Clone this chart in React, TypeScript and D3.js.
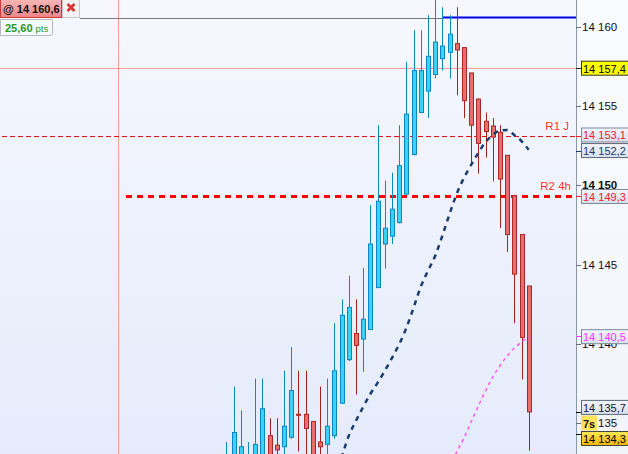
import React from "react";
import * as d3 from "d3";

// ---- DATA ----
const opens = [
  14131.0, 14131.5, 14131.8, 14131.5, 14132.2, 14132.4, 14134.2, 14133.6, 14133.5, 14134.1,
  14135.55, 14135.55, 14135.1, 14133.8, 14133.65, 14134.2, 14136.25, 14139.0, 14140.65, 14140.3,
  14140.9, 14143.55, 14146.3, 14146.8, 14147.65, 14149.45, 14151.95, 14154.6, 14155.95, 14157.0,
  14158.0, 14158.4, 14158.95, 14158.7, 14157.1, 14155.45, 14154.05, 14153.75, 14153.35, 14151.9,
  14149.35, 14146.9, 14143.65,
];
const highs = [
  14133.8, 14137.3, 14135.8, 14133.8, 14137.8, 14137.8, 14135.3, 14135.3, 14138.3, 14139.8,
  14138.3, 14138.3, 14135.1, 14137.3, 14137.8, 14141.3, 14142.8, 14144.3, 14142.8, 14144.8,
  14148.75, 14153.8, 14150.3, 14150.8, 14153.8, 14157.8, 14159.8, 14159.8, 14160.75, 14161.7,
  14161.25, 14160.75, 14161.25, 14158.7, 14157.1, 14155.5, 14154.6, 14154.25, 14153.8, 14151.9,
  14149.4, 14146.9, 14143.65,
];
const lows = [
  14130.0, 14131.0, 14131.5, 14131.0, 14131.8, 14132.0, 14132.0, 14132.5, 14132.8, 14134.0,
  14133.2, 14132.8, 14132.0, 14132.8, 14132.8, 14134.0, 14136.2, 14138.9, 14136.8, 14138.24,
  14140.9, 14143.55, 14144.75, 14146.3, 14147.6, 14149.4, 14151.9, 14154.6, 14154.25, 14156.75,
  14157.25, 14156.75, 14155.7, 14154.25, 14151.4, 14150.75, 14151.75, 14150.25, 14147.3, 14145.8,
  14141.3, 14137.75, 14133.25,
];
const closes = [
  14132.5, 14134.4, 14133.5, 14132.6, 14133.65, 14135.9, 14132.6, 14133.3, 14134.8, 14137.05,
  14135.5, 14134.65, 14132.6, 14133.5, 14134.8, 14138.3, 14141.8, 14142.3, 14139.9, 14141.55,
  14146.3, 14149.0, 14147.3, 14148.5, 14151.25, 14154.5, 14157.25, 14157.25, 14158.15, 14159.05,
  14158.8, 14159.55, 14158.55, 14155.35, 14153.8, 14152.65, 14153.4, 14153.05, 14150.4, 14146.9,
  14144.4, 14140.4, 14135.7,
];

// dark dashed moving average, starting at candle 16
const navyStart = 16;
const navyMA = [
  14132.79, 14134.18, 14135.13, 14136.01, 14136.83, 14137.53, 14138.28, 14139.1, 14139.96, 14141.0,
  14142.26, 14143.59, 14144.6, 14145.54, 14146.81, 14148.19, 14149.46, 14150.47, 14151.29, 14152.05,
  14152.74, 14153.18, 14153.47, 14153.5, 14153.18, 14152.8, 14152.25,
];
// pink dashed curve, starting at candle 31
const pinkStart = 31;
const pinkMA = [
  14132.2, 14133.17, 14134.05, 14135.06, 14136.07, 14137.02, 14137.9, 14138.6, 14139.23, 14139.73,
  14140.11, 14140.45,
];

const priceTicks = [14160, 14155, 14150, 14145, 14140, 14135];
const boldTick = 14150;

const lastPrice = 14160.6; // "@ 14 160,6" level
const rangePts = "25,60";
const level157 = 14157.4;
const levelR1 = 14153.1;
const levelR2 = 14149.3;
const r1Label = "R1 J";
const r2Label = "R2 4h";
const timerLabel = "7s";

const markerValues = [14157.4, 14153.1, 14152.2, 14149.3, 14140.5, 14135.7, 14134.3];
const markerKinds = ["yellow", "red", "navy", "red", "pink", "last", "bid"];

// ---- STYLES ----
const markerStyle: Record<string, { fill: string; stroke: string; text: string; tick: string }> = {
  yellow: { fill: "#ffff00", stroke: "#333333", text: "#000000", tick: "#222222" },
  red: { fill: "url(#boxGrad)", stroke: "#7a8a9a", text: "#ee2233", tick: "#ee2233" },
  navy: { fill: "url(#boxGrad)", stroke: "#5a6a7a", text: "#1a3a70", tick: "#1a3a70" },
  pink: { fill: "url(#boxGrad)", stroke: "#7a8a9a", text: "#ff33ff", tick: "#ff33ff" },
  last: { fill: "url(#boxGrad)", stroke: "#5a6a7a", text: "#101830", tick: "#000000" },
  bid: { fill: "url(#bidGrad)", stroke: "#444444", text: "#000000", tick: "#000000" },
};
const markerNudge = [0, -1.3, 0, 0, 0.8, -4.5, 4.4];

const FONT = "'Liberation Sans', Arial, sans-serif";

const fr = d3.formatLocale({ decimal: ",", thousands: "\u00a0", grouping: [3], currency: ["", ""] });
const fmt1 = fr.format(",.1f");
const fmt0 = fr.format(",.0f");

export default function App() {
  const W = 628;
  const H = 454;
  const axisX = 576;

  const x = d3.scaleLinear().domain([0, closes.length - 1]).range([226.3, 528.7]);
  const y = d3.scaleLinear().domain([14135, 14160]).range([423, 27]);

  const navyPath =
    d3
      .line<number>()
      .x((_, i) => x(navyStart + i))
      .y((v) => y(v))
      .curve(d3.curveMonotoneX)(navyMA) || "";
  const pinkPath =
    d3
      .line<number>()
      .x((_, i) => x(pinkStart + i))
      .y((v) => y(v))
      .curve(d3.curveMonotoneX)(pinkMA) || "";

  const bw = 4;
  const yLast = y(lastPrice);

  return (
    <svg
      width={W}
      height={H}
      style={{ position: "fixed", left: 0, top: 0, display: "block" }}
      fontFamily={FONT}
    >
      <defs>
        <linearGradient id="bgGrad" x1="0" y1="0" x2="0" y2="1">
          <stop offset="0" stopColor="#f6f8fe" />
          <stop offset="1" stopColor="#e5ebfb" />
        </linearGradient>
        <linearGradient id="axGrad" x1="0" y1="0" x2="0" y2="1">
          <stop offset="0" stopColor="#fafbfe" />
          <stop offset="1" stopColor="#f1f4fb" />
        </linearGradient>
        <linearGradient id="boxGrad" x1="0" y1="0" x2="0" y2="1">
          <stop offset="0" stopColor="#f2f5fa" />
          <stop offset="1" stopColor="#d6dfeb" />
        </linearGradient>
        <linearGradient id="bidGrad" x1="0" y1="0" x2="0" y2="1">
          <stop offset="0" stopColor="#ffe85a" />
          <stop offset="1" stopColor="#f2b400" />
        </linearGradient>
        <linearGradient id="tagGrad" x1="0" y1="0" x2="0" y2="1">
          <stop offset="0" stopColor="#f9b8b8" />
          <stop offset="1" stopColor="#ef8585" />
        </linearGradient>
        <clipPath id="plotClip">
          <rect x={0} y={0} width={axisX} height={H} />
        </clipPath>
      </defs>

      <rect x={0} y={0} width={axisX} height={H} fill="url(#bgGrad)" />
      <rect x={axisX} y={0} width={W - axisX} height={H} fill="url(#axGrad)" />

      <g clipPath="url(#plotClip)">
        {/* pink crosshair lines */}
        <line x1={118.5} x2={118.5} y1={0} y2={H} stroke="#ff9c9c" strokeWidth={1} />
        <line x1={0} x2={axisX} y1={Math.round(y(level157)) + 0.5} y2={Math.round(y(level157)) + 0.5} stroke="#ff9c9c" strokeWidth={1} />

        {/* R1 J thin dashed */}
        <line
          x1={2}
          x2={axisX}
          y1={Math.round(y(levelR1)) + 0.5}
          y2={Math.round(y(levelR1)) + 0.5}
          stroke="#e01010"
          strokeWidth={1}
          strokeDasharray="5 3"
        />
        {/* R2 4h thick dashed */}
        <line
          x1={126}
          x2={axisX}
          y1={y(levelR2)}
          y2={y(levelR2)}
          stroke="#ff0000"
          strokeWidth={3}
          strokeDasharray="6 5"
        />

        {/* last price lines */}
        <line x1={80} x2={442} y1={yLast + 1} y2={yLast + 1} stroke="#7a7a7a" strokeWidth={1} />
        <line x1={442} x2={axisX} y1={yLast} y2={yLast} stroke="#0000e6" strokeWidth={2} />

        {/* candles */}
        {closes.map((c, i) => {
          const o = opens[i];
          const up = c >= o;
          const cx = Math.round(x(i)) + 0.5;
          const top = y(Math.max(o, c));
          const bot = y(Math.min(o, c));
          const wick = up ? "#0a8ac4" : "#a82020";
          const fill = up ? "#3cd2f6" : "#e86d6d";
          const stroke = up ? "#0a86c2" : "#a82828";
          return (
            <g key={i}>
              <line x1={cx} x2={cx} y1={y(highs[i])} y2={y(lows[i])} stroke={wick} strokeWidth={1} />
              <rect
                x={cx - bw / 2}
                y={top}
                width={bw}
                height={Math.max(bot - top, 1)}
                fill={fill}
                stroke={stroke}
                strokeWidth={1}
              />
            </g>
          );
        })}

        {/* dashed curves */}
        <path d={navyPath} fill="none" stroke="#1b3c6e" strokeWidth={2.5} strokeDasharray="5 5" />
        <path d={pinkPath} fill="none" stroke="#ff55f0" strokeWidth={1.5} strokeDasharray="3.5 3.5" />

        {/* level labels */}
        <text x={569} y={y(levelR1) - 6} textAnchor="end" fontSize={11.5} fill="#ff2a2a" stroke="#ffffff" strokeWidth={2} paintOrder="stroke">
          {r1Label}
        </text>
        <text x={571} y={y(levelR2) - 6} textAnchor="end" fontSize={11.5} fill="#ff2a2a" stroke="#ffffff" strokeWidth={2} paintOrder="stroke">
          {r2Label}
        </text>
      </g>

      {/* axis */}
      <line x1={axisX + 0.5} x2={axisX + 0.5} y1={0} y2={H} stroke="#8898a8" strokeWidth={1} />
      {priceTicks.map((t) => (
        <g key={t}>
          <line x1={axisX} x2={axisX + 5} y1={Math.round(y(t)) + 0.5} y2={Math.round(y(t)) + 0.5} stroke="#6a7480" />
          <text
            x={582}
            y={y(t)}
            dominantBaseline="central"
            fontSize={11.5}
            fontWeight={t === boldTick ? "bold" : "normal"}
            fill="#111111"
          >
            {fmt0(t)}
          </text>
        </g>
      ))}

      {/* marker boxes */}
      {markerValues.map((v, i) => {
        const st = markerStyle[markerKinds[i]];
        const cy = y(v) + markerNudge[i];
        return (
          <g key={i}>
            <line x1={axisX} x2={axisX + 5} y1={Math.round(y(v)) + 0.5} y2={Math.round(y(v)) + 0.5} stroke={st.tick} />
            <rect x={581.5} y={cy - 7} width={52} height={14} fill={st.fill} stroke={st.stroke} strokeWidth={1} />
            <text x={583} y={cy + 0.5} dominantBaseline="central" fontSize={11} fill={st.text}>
              {fmt1(v)}
            </text>
          </g>
        );
      })}

      {/* timer box */}
      <rect x={581} y={415.5} width={16} height={15} fill="#ffe45c" />
      <text x={583} y={423.5} dominantBaseline="central" fontSize={11} fontWeight="bold" fill="#111111">
        {timerLabel}
      </text>

      {/* top-left tags */}
      <rect x={0.5} y={-1} width={61} height={18.5} fill="url(#tagGrad)" stroke="#cc3a3a" strokeWidth={1} />
      <text x={3} y={9} dominantBaseline="central" fontSize={11} fontWeight="bold" fill="#111111">
        {"@ " + fmt1(lastPrice)}
      </text>
      <rect x={62.5} y={-1} width={17} height={18.5} fill="#f3f3f3" stroke="#c8c8c8" strokeWidth={1} />
      <g stroke="#d83434" strokeWidth={2.6} strokeLinecap="butt">
        <line x1={67.5} y1={4} x2={74.5} y2={11} />
        <line x1={74.5} y1={4} x2={67.5} y2={11} />
      </g>
      <path d="M0.5,19.5 H52.5 V33 Q52.5,35.5 50,35.5 H0.5 Z" fill="#f8f9fd" stroke="#b4b8c0" strokeWidth={1} />
      <text x={5} y={28} dominantBaseline="central" fill="#1f9a1f">
        <tspan fontSize={11} fontWeight="bold">{rangePts}</tspan>
        <tspan fontSize={9.5} dx={3}>pts</tspan>
      </text>
    </svg>
  );
}
